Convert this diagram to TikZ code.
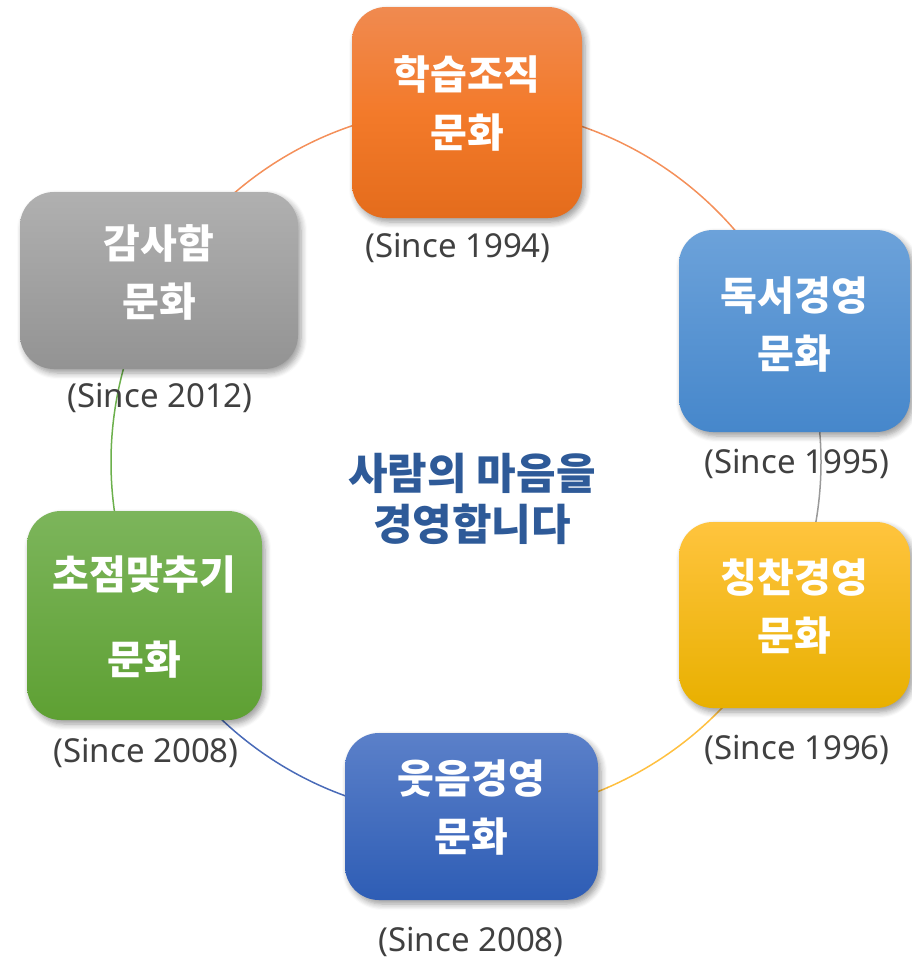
\documentclass[tikz,border=0pt]{standalone}
\usepackage{fontspec}
\newfontfamily\krfont{Noto Sans CJK KR}
\newfontfamily\latfont{Noto Sans}
\usetikzlibrary{shadows.blur}
\definecolor{arcorange}{HTML}{F4905A}
\definecolor{arcgray}{HTML}{9A9A9A}
\definecolor{arcyellow}{HTML}{FFC040}
\definecolor{arcblue}{HTML}{4A6BB8}
\definecolor{arcgreen}{HTML}{6CB04C}
\definecolor{midtext}{HTML}{2E5A98}
\definecolor{sincetext}{HTML}{404040}
% two centred lines, raised by #1, second line #4 further apart
\newcommand{\boxlines}[4]{\raisebox{#1}[0pt][0pt]{\begin{tabular}[t]{@{}c@{}}#2\\[#4]#3\end{tabular}}}
\tikzset{
  culture/.style={rounded corners=34pt, inner sep=0pt, text=white,
    font=\krfont\bfseries\fontsize{40}{58}\selectfont,
    blur shadow={shadow xshift=3pt, shadow yshift=-4pt, shadow blur steps=6, shadow opacity=40, shadow blur radius=6pt}},
  since/.style={font=\latfont\fontsize{33}{40}\selectfont, text=sincetext, inner sep=0pt},
  ring/.style={line width=1.5pt},
}
\begin{document}
\begin{tikzpicture}[x=1pt,y=1pt]
\useasboundingbox (0,0) rectangle (912,-961);
\coordinate (O) at (466,-462);
% ring connectors (ends hidden under the boxes)
\draw[ring, arcorange] (O) ++(135:355) arc[start angle=135, end angle=105, radius=355];
\draw[ring, arcorange] (O) ++(75:355) arc[start angle=75, end angle=37, radius=355];
\draw[ring, arcgray] (O) ++(10:355) arc[start angle=10, end angle=-14, radius=355];
\draw[ring, arcyellow] (O) ++(-38:355) arc[start angle=-38, end angle=-72, radius=355];
\draw[ring, arcblue] (O) ++(253:355) arc[start angle=253, end angle=222, radius=355];
\draw[ring, arcgreen] (O) ++(192:355) arc[start angle=192, end angle=160, radius=355];
% boxes
\node[culture, minimum width=230pt, minimum height=211pt,
  top color={rgb,255:red,240;green,138;blue,80}, bottom color={rgb,255:red,228;green,108;blue,28}, middle color={rgb,255:red,243;green,122;blue,42}]
  (learn) at (467,-112.5) {\boxlines{23pt}{학습조직}{문화}{0pt}};
\node[culture, minimum width=231pt, minimum height=202pt,
  top color={rgb,255:red,108;green,162;blue,218}, bottom color={rgb,255:red,70;green,135;blue,203}]
  (read) at (794.5,-331) {\boxlines{20.5pt}{독서경영}{문화}{0pt}};
\node[culture, minimum width=231pt, minimum height=186pt,
  top color={rgb,255:red,255;green,196;blue,62}, middle color={rgb,255:red,255;green,192;blue,0}, bottom color={rgb,255:red,232;green,176;blue,0}]
  (praise) at (794.5,-615) {\boxlines{22.5pt}{칭찬경영}{문화}{0pt}};
\node[culture, minimum width=253pt, minimum height=167pt,
  top color={rgb,255:red,91;green,128;blue,201}, bottom color={rgb,255:red,46;green,93;blue,181}]
  (laugh) at (471.5,-816.5) {\boxlines{23pt}{웃음경영}{문화}{0pt}};
\node[culture, minimum width=235pt, minimum height=209pt,
  top color={rgb,255:red,124;green,181;blue,91}, bottom color={rgb,255:red,94;green,160;blue,51}]
  (focus) at (144.5,-615.5) {\boxlines{26pt}{초점맞추기}{문화}{27pt}};
\node[culture, minimum width=278pt, minimum height=177pt,
  top color={rgb,255:red,176;green,176;blue,176}, bottom color={rgb,255:red,147;green,147;blue,147}]
  (thanks) at (159,-280.5) {\boxlines{22pt}{감사함}{문화}{0pt}};
% since labels
\node[since] (s1) at (458,-248) {(Since 1994)};
\node[since] (s2) at (797,-464) {(Since 1995)};
\node[since] (s3) at (797,-750) {(Since 1996)};
\node[since] (s4) at (471,-942) {(Since 2008)};
\node[since] (s5) at (146,-753) {(Since 2008)};
\node[since] (s6) at (160,-398) {(Since 2012)};
% centre
\node[font=\krfont\bfseries\fontsize{43}{51}\selectfont, text=midtext, align=center] (mid) at (472,-499) {사람의 마음을\\경영합니다};
\end{tikzpicture}
\end{document}
